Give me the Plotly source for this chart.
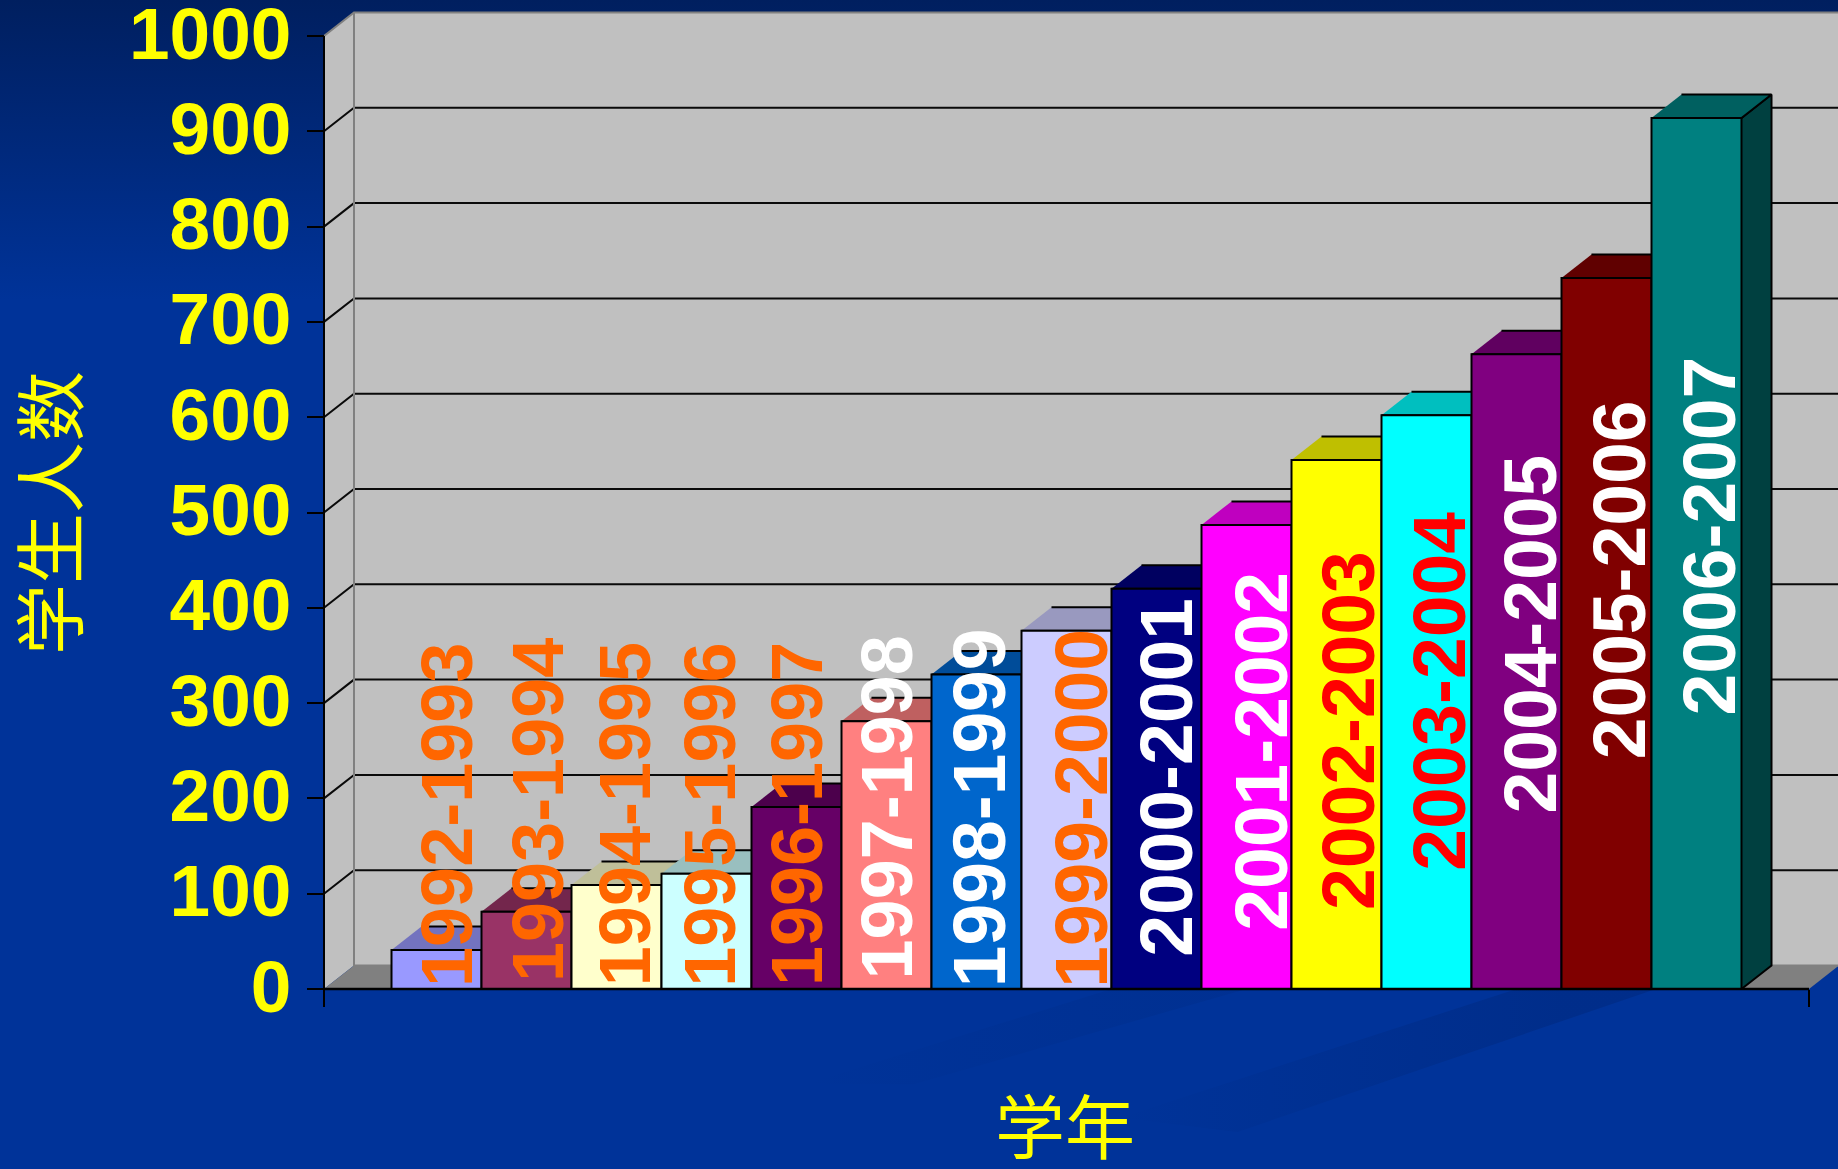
import plotly.graph_objects as go

# Enrolment per school year
years = ["1992-1993", "1993-1994", "1994-1995", "1995-1996", "1996-1997",
         "1997-1998", "1998-1999", "1999-2000", "2000-2001", "2001-2002",
         "2002-2003", "2003-2004", "2004-2005", "2005-2006", "2006-2007"]
students = [41, 81, 109, 121, 191, 281, 330, 376, 420, 487, 555, 602, 666, 746, 914]
y_ticks = [0, 100, 200, 300, 400, 500, 600, 700, 800, 900, 1000]

front_colors = ["#9999FF", "#993366", "#FFFFCC", "#CCFFFF", "#660066", "#FF8080", "#0066CC", "#CCCCFF",
                "#000080", "#FF00FF", "#FFFF00", "#00FFFF", "#800080", "#800000", "#008080"]
label_colors = ["#FF6600", "#FF6600", "#FF6600", "#FF6600", "#FF6600", "#FFFFFF", "#FFFFFF", "#FF6600",
                "#FFFFFF", "#FFFFFF", "#FF0000", "#FF0000", "#FFFFFF", "#FFFFFF", "#FFFFFF"]

# Where each rotated year label sits: sideways offset in bar widths, centre on the value axis
label_dx = [0.11, 0.13, 0.09, 0.03, 0.0, 0.0, 0.03, 0.16, 0.11, 0.16, 0.13, 0.14, 0.15, 0.14, 0.14]
label_mid = [183, 188, 183, 183, 183, 190, 190, 190, 222, 250, 271, 312, 372, 429, 475]
label_size = [72, 72, 72, 72, 72, 72, 75, 75, 75, 75, 75, 75, 75, 75, 75]

WIDTH, HEIGHT = 1838, 1169
BAR_PX = 90.0          # one bar width in pixels
FIRST_BAR_PX = 436.5   # centre of the first bar
ZERO_PX = 989.0        # pixel row of value 0
UNIT_PX = 0.953        # pixels per student
DEPTH_X = 30 / BAR_PX  # 3D depth, in axis units
DEPTH_Y = 23.5 / UNIT_PX
AXIS_L, AXIS_R = -1.25, 15.25
TOP = 1000

x_range = [-FIRST_BAR_PX / BAR_PX, (WIDTH - FIRST_BAR_PX) / BAR_PX]
y_range = [-(HEIGHT - ZERO_PX) / UNIT_PX, ZERO_PX / UNIT_PX]


def shade(hex_color, k):
    r, g, b = (int(hex_color[i:i + 2], 16) for i in (1, 3, 5))
    return f"rgb({round(r * k)},{round(g * k)},{round(b * k)})"


def poly(xs, ys, fill, line=None, width=2):
    return go.Scatter(x=xs, y=ys, mode="lines", fill="toself", fillcolor=fill,
                      line=dict(color=line or fill, width=width if line else 0),
                      hoverinfo="skip", showlegend=False)


def path(xs, ys, color, width, **kw):
    return go.Scatter(x=xs, y=ys, mode="lines", line=dict(color=color, width=width),
                      hoverinfo="skip", showlegend=False, **kw)


def streak(xs, ys, fade_from, fade_to, alpha):
    # Diagonal background streak that dissolves toward the lower left
    return go.Scatter(x=xs, y=ys, mode="none", fill="toself", hoverinfo="skip", showlegend=False,
                      fillgradient=dict(type="horizontal", start=fade_from, stop=fade_to,
                                        colorscale=[[0, "rgba(0,30,100,0)"], [1, f"rgba(0,30,100,{alpha})"]]))


fig = go.Figure()

# Slide background: dark band fading into the blue, plus two faint diagonal streaks
x0, x1 = x_range
band_bottom = ZERO_PX / UNIT_PX - 300 / UNIT_PX
fig.add_trace(go.Scatter(
    x=[x0, x1, x1, x0], y=[y_range[1], y_range[1], band_bottom, band_bottom],
    mode="none", fill="toself", hoverinfo="skip", showlegend=False,
    fillgradient=dict(type="vertical", start=y_range[1], stop=band_bottom,
                      colorscale=[[0, "#001F5F"], [1, "#003399"]])))
fig.add_trace(streak([12.0, 13.55, 8.9, 7.6], [0, 0, -150, -135], 7.6, 12.5, 0.28))
fig.add_trace(streak([7.5, 9.0, 5.3, 4.1], [0, 0, -100, -100], 4.1, 8.0, 0.12))

# Walls and floor of the 3D box
wall_top = TOP + DEPTH_Y
right_edge = AXIS_R + DEPTH_X
fig.add_trace(poly([AXIS_L, AXIS_L + DEPTH_X, AXIS_L + DEPTH_X, AXIS_L],
                   [0, DEPTH_Y, wall_top, TOP], "#C0C0C0"))
fig.add_trace(poly([AXIS_L + DEPTH_X, right_edge, right_edge, AXIS_L + DEPTH_X],
                   [DEPTH_Y, DEPTH_Y, wall_top, wall_top], "#C0C0C0"))
fig.add_trace(poly([AXIS_L, AXIS_R, right_edge, AXIS_L + DEPTH_X],
                   [0, 0, DEPTH_Y, DEPTH_Y], "#808080"))

# Gridlines run up the side wall and along the back wall
for v in y_ticks[1:-1]:
    fig.add_trace(path([AXIS_L, AXIS_L + DEPTH_X, right_edge], [v, v + DEPTH_Y, v + DEPTH_Y], "#0A0A0A", 2))
fig.add_trace(path([AXIS_L, AXIS_L + DEPTH_X, right_edge], [TOP, wall_top, wall_top], "#808080", 2))
fig.add_trace(path([AXIS_L + DEPTH_X, AXIS_L + DEPTH_X, right_edge], [wall_top, DEPTH_Y, DEPTH_Y], "#808080", 2))
fig.add_trace(path([AXIS_L, AXIS_L], [0, TOP], "#000000", 2))

# Top and right faces of the bars, painted left to right
indices = list(range(len(years)))
for i, (v, c) in enumerate(zip(students, front_colors)):
    l, r = i - 0.5, i + 0.5
    fig.add_trace(poly([r, r + DEPTH_X, r + DEPTH_X, r], [0, DEPTH_Y, v + DEPTH_Y, v], shade(c, 0.5), "#000000"))
    fig.add_trace(poly([l, r, r + DEPTH_X, l + DEPTH_X], [v, v, v + DEPTH_Y, v + DEPTH_Y], shade(c, 0.75), "#000000"))

# Front faces sit on an overlaid pair of axes so they cover the faces behind
fig.add_trace(go.Bar(x=indices, y=students, width=1, xaxis="x2", yaxis="y2",
                     marker=dict(color=front_colors, line=dict(color="#000000", width=2)),
                     hovertext=years, showlegend=False))
fig.add_trace(go.Scatter(x=[AXIS_L, AXIS_R], y=[0, 0], mode="lines", xaxis="x2", yaxis="y2",
                         line=dict(color="#000000", width=2.5), hoverinfo="skip", showlegend=False))

annotations = [
    dict(x=i + dx, y=mid, xref="x", yref="y", text=name, textangle=-90, showarrow=False,
         xanchor="center", yanchor="middle",
         font=dict(family="Liberation Sans", size=size, weight="bold", color=color))
    for i, (name, dx, mid, size, color) in enumerate(zip(years, label_dx, label_mid, label_size, label_colors))
]
title_font = dict(family="Liberation Sans, Noto Sans CJK SC", size=70, color="#FFFF00")
annotations.append(dict(x=(1065 - FIRST_BAR_PX) / BAR_PX, y=(ZERO_PX - 1130) / UNIT_PX, xref="x", yref="y",
                        text="学年", showarrow=False, font=title_font))
annotations.append(dict(x=(52 - FIRST_BAR_PX) / BAR_PX, y=(ZERO_PX - 513) / UNIT_PX, xref="x", yref="y",
                        text="学生人数", textangle=-90, showarrow=False,
                        font=dict(family=title_font["family"], size=71, color="#FFFF00")))

fig.update_layout(
    width=WIDTH, height=HEIGHT, margin=dict(l=0, r=0, t=0, b=0, autoexpand=False),
    paper_bgcolor="#003399", plot_bgcolor="#003399", showlegend=False, hovermode=False,
    annotations=annotations,
    xaxis=dict(domain=[0, 1], range=x_range, showgrid=False, zeroline=False, showline=False,
               automargin=False, anchor="free", position=(HEIGHT - ZERO_PX) / HEIGHT, tickmode="array",
               tickvals=[AXIS_L, AXIS_R], ticktext=["", ""], ticks="outside", ticklen=17,
               tickwidth=2, tickcolor="#000000"),
    yaxis=dict(domain=[0, 1], range=y_range, showgrid=False, zeroline=False, showline=False,
               automargin=False, anchor="free", position=(AXIS_L - x_range[0]) / (x_range[1] - x_range[0]),
               tickmode="array", tickvals=y_ticks, ticks="outside", ticklen=17, tickwidth=2,
               tickcolor="#000000", ticklabelstandoff=1, ticklabelshift=-3, ticklabeloverflow="allow",
               tickfont=dict(family="Liberation Sans", size=73, weight="bold", color="#FFFF00")),
    xaxis2=dict(range=x_range, overlaying="x", visible=False, anchor="y2"),
    yaxis2=dict(range=y_range, overlaying="y", visible=False, anchor="x2"),
)

fig.write_html("out.html")
